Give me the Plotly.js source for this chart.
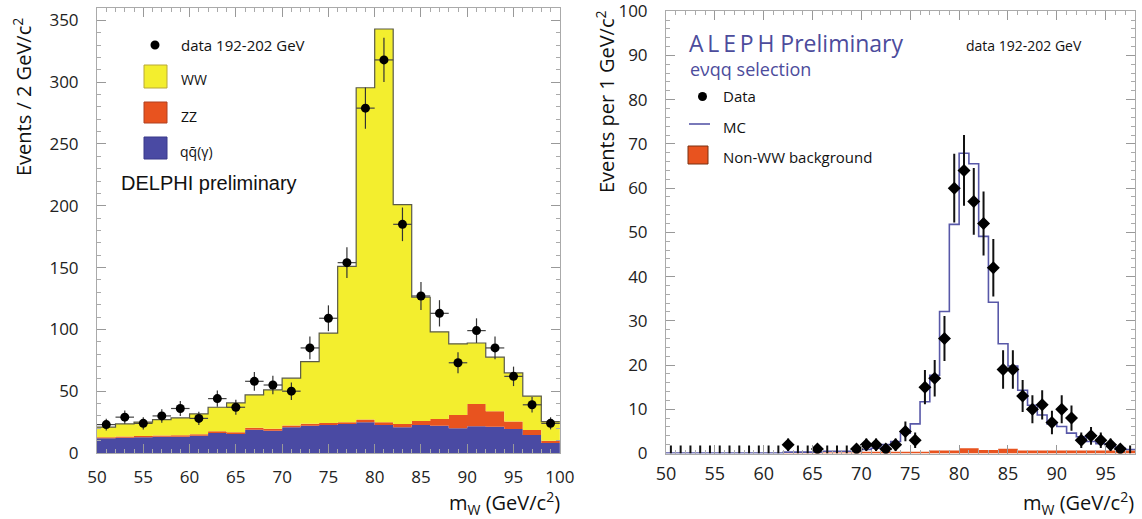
<!DOCTYPE html>
<html><head><meta charset="utf-8">
<script src="https://cdn.plot.ly/plotly-3.0.1.min.js"></script>
<style>html,body{margin:0;padding:0;background:#fff}#chart{width:1142px;height:519px}</style>
</head><body><div id="chart"></div>
<script>
// ---------- DELPHI (left) : 2 GeV bins ----------
const delphiBinLow = [50,52,54,56,58,60,62,64,66,68,70,72,74,76,78,80,82,84,86,88,90,92,94,96,98];
const delphiBinWidth = 2;
const delphiQQ   = [11.9,12.4,12.7,13.2,13.2,14.0,16.2,15.4,18.9,18.1,20.8,22.1,22.7,23.5,24.9,22.7,20.8,22.7,22.0,20.1,21.6,21.3,19.4,14.6,8.1];
const delphiZZ   = [0.8,1.0,1.0,1.0,1.2,1.2,1.3,1.3,1.5,1.5,1.5,1.6,1.6,1.4,2.1,2.2,2.7,3.2,5.5,10.7,18.0,12.5,6.0,4.0,1.9];
const delphiWW   = [8.3,10.1,11.2,12.8,14.0,16.4,19.5,23.8,26.6,31.4,38.2,50.3,72.7,126.1,268.5,318.1,177.5,100.1,70.5,57.5,49.4,43.7,39.4,27.4,15.4];
const delphiData = [23,29,24,30,36,28,44,37,58,55,50,85,109,154,279,318,185,127,113,73,99,85,62,39,24];

// ---------- ALEPH (right) : 1 GeV bins ----------
const alephBinLow = [50,51,52,53,54,55,56,57,58,59,60,61,62,63,64,65,66,67,68,69,70,71,72,73,74,75,76,77,78,79,80,81,82,83,84,85,86,87,88,89,90,91,92,93,94,95,96,97];
const alephBinWidth = 1;
const alephMC   = [0.1,0.1,0.1,0.1,0.1,0.1,0.1,0.1,0.1,0.1,0.1,0.1,0.3,0.3,0.3,0.3,0.5,0.5,0.5,0.5,0.9,1.2,2.0,2.7,4.6,6.7,11.7,17.7,32.1,51.8,67.9,65.5,49.1,34.2,24.8,19.8,14.3,10.9,8.7,6.7,6.1,4.6,3.8,2.7,2.2,1.6,1.2,0.9];
const alephBkg  = [0,0,0,0,0,0,0,0,0,0,0,0,0.2,0.2,0.2,0.2,0.2,0.2,0.2,0.2,0.4,0.4,0.4,0.4,0.4,0.4,0.4,0.7,0.7,0.7,1.2,1.2,0.8,0.8,1.1,1.1,0.7,0.7,0.7,0.7,0.7,0.7,0.7,0.7,0.7,0.7,0.7,0.7];
const alephData = [0,0,0,0,0,0,0,0,0,0,0,0,2,0,0,1,0,0,0,1,2,2,1,2,5,3,15,17,26,60,64,57,52,42,19,19,13,10,11,7,10,8,3,4,3,2,1,0];

// ---------- helpers ----------
const W = 1142, H = 519;
const px = x => x / W, py = y => 1 - y / H;
function edges(low, w){ const e = low.slice(); e.push(low[low.length-1] + w); return e; }
function stepY(v){ const a = v.slice(); a.push(v[v.length-1]); return a; }
function centers(low, w){ return low.map(v => v + w/2); }
function addArr(a,b){ return a.map((v,i)=>v+b[i]); }

const dEdges = edges(delphiBinLow, delphiBinWidth);
const dQQ = delphiQQ;
const dQQZZ = addArr(delphiQQ, delphiZZ);
const dTot = addArr(dQQZZ, delphiWW);

const aEdges = edges(alephBinLow, alephBinWidth);
const aCent = centers(alephBinLow, alephBinWidth);
const aNZx = [], aNZy = [], aNZe = [], aZx = [], aZy = [];
alephData.forEach((v,i)=>{ if(v>0){aNZx.push(aCent[i]);aNZy.push(v);aNZe.push(Math.sqrt(v));} else {aZx.push(aCent[i]);aZy.push(0);} });

const YEL = '#f3ee2e', RED = '#e8531f', BLU = '#4a4aa3', MCB = '#5858a8', ALEPHC = '#4c4c9c';

const traces = [
  {x: dEdges, y: stepY(dQQ), type:'scatter', mode:'lines', line:{shape:'hv', width:0}, fill:'tozeroy', fillcolor:BLU, xaxis:'x', yaxis:'y', hoverinfo:'skip'},
  {x: dEdges, y: stepY(dQQZZ), type:'scatter', mode:'lines', line:{shape:'hv', width:0}, fill:'tonexty', fillcolor:RED, xaxis:'x', yaxis:'y', hoverinfo:'skip'},
  {x: dEdges, y: stepY(dTot), type:'scatter', mode:'lines', line:{shape:'hv', width:0}, fill:'tonexty', fillcolor:YEL, xaxis:'x', yaxis:'y', hoverinfo:'skip'},
  {x: dEdges, y: stepY(dTot), type:'scatter', mode:'lines', line:{shape:'hv', width:1.2, color:'#5a5a48'}, xaxis:'x', yaxis:'y', hoverinfo:'skip'},
  {x: centers(delphiBinLow, delphiBinWidth), y: delphiData, type:'scatter', mode:'markers',
   marker:{symbol:'circle', size:9, color:'#000'},
   error_y:{type:'data', array: delphiData.map(v=>Math.sqrt(v)), thickness:1.2, width:0, color:'#333'},
   error_x:{type:'constant', value: delphiBinWidth/2, thickness:1.2, width:0, color:'#444'},
   xaxis:'x', yaxis:'y'},

  {x: aEdges, y: stepY(alephBkg), type:'scatter', mode:'lines', line:{shape:'hv', width:0}, fill:'tozeroy', fillcolor:RED, xaxis:'x2', yaxis:'y2', hoverinfo:'skip'},
  {x: aEdges, y: stepY(alephMC), type:'scatter', mode:'lines', line:{shape:'hv', width:1.6, color:MCB}, xaxis:'x2', yaxis:'y2'},
  {x: aZx, y: aZy, type:'scatter', mode:'markers', marker:{size:1, color:'rgba(0,0,0,0)'},
   error_y:{type:'data', symmetric:false, array: aZx.map(()=>1.8), arrayminus: aZx.map(()=>0), thickness:2, width:0, color:'#111'},
   xaxis:'x2', yaxis:'y2'},
  {x: aNZx, y: aNZy, type:'scatter', mode:'markers', marker:{symbol:'diamond', size:10, color:'#000'},
   error_y:{type:'data', array: aNZe, thickness:2, width:0, color:'#111'},
   xaxis:'x2', yaxis:'y2'}
];

const tickFont = s => ({family:'Open Sans, Liberation Sans, sans-serif', size:s, color:'#222'});
function axisBase(extra){
  return Object.assign({
    showgrid:false, zeroline:false, showline:true, linecolor:'#aaa', linewidth:1,
    mirror:'allticks', ticks:'inside', ticklen:9, tickwidth:1, tickcolor:'#999',
    ticklabeloverflow:'allow', fixedrange:true
  }, extra);
}

const layout = {
  width: W, height: H, margin:{l:0,r:0,t:0,b:0,pad:0},
  paper_bgcolor:'#fff', plot_bgcolor:'#fff', showlegend:false,
  xaxis: axisBase({domain:[px(97), px(560)], range:[50,100.02], tick0:50, dtick:5, anchor:'y',
    minor:{dtick:1, ticklen:4, ticks:'inside', tickcolor:'#aaa'}, tickfont:tickFont(17), ticklabelstandoff:9}),
  yaxis: axisBase({domain:[py(453), py(8)], range:[0,360], tick0:0, dtick:50, anchor:'x',
    minor:{dtick:10, ticklen:4, ticks:'inside', tickcolor:'#aaa'}, tickfont:tickFont(17), ticklabelstandoff:14}),
  xaxis2: axisBase({domain:[px(666), px(1135)], range:[50,98], tick0:50, dtick:5, anchor:'y2',
    minor:{dtick:1, ticklen:4, ticks:'inside', tickcolor:'#aaa'}, tickfont:tickFont(18), ticklabelstandoff:4}),
  yaxis2: axisBase({domain:[py(453.5), py(11)], range:[0,100.05], tick0:0, dtick:10, anchor:'x2',
    minor:{dtick:2, ticklen:4, ticks:'inside', tickcolor:'#aaa'}, tickfont:tickFont(17), ticklabelstandoff:14}),
  shapes: [
    {type:'rect', xref:'paper', yref:'paper', x0:px(144), x1:px(167), y0:py(88), y1:py(65), fillcolor:YEL, line:{color:'#b8a838', width:1}},
    {type:'rect', xref:'paper', yref:'paper', x0:px(144), x1:px(167), y0:py(123), y1:py(102), fillcolor:RED, line:{color:'#b04020', width:1}},
    {type:'rect', xref:'paper', yref:'paper', x0:px(144), x1:px(167), y0:py(159), y1:py(137), fillcolor:BLU, line:{color:'#38388a', width:1}},
    {type:'circle', xref:'paper', yref:'paper', x0:px(150.5), x1:px(159.5), y0:py(49.5), y1:py(40.5), fillcolor:'#000', line:{width:0}},
    {type:'circle', xref:'paper', yref:'paper', x0:px(698), x1:px(707), y0:py(101), y1:py(92), fillcolor:'#000', line:{width:0}},
    {type:'line', xref:'paper', yref:'paper', x0:px(689), x1:px(710), y0:py(124), y1:py(124), line:{color:MCB, width:1.6}},
    {type:'rect', xref:'paper', yref:'paper', x0:px(688), x1:px(708), y0:py(164), y1:py(146), fillcolor:RED, line:{color:'#7a3010', width:1}}
  ],
  annotations: [
    {xref:'paper', yref:'paper', x:px(22), y:py(97), text:'Events / 2 GeV/c<sup>2</sup>', textangle:-90, showarrow:false, xanchor:'center', yanchor:'middle', font:{family:'Open Sans', size:20, color:'#111'}},
    {xref:'paper', yref:'paper', x:px(562), y:py(503), text:'m<sub>W</sub> (GeV/c<sup>2</sup>)', showarrow:false, xanchor:'right', yanchor:'middle', font:{family:'Open Sans', size:20, color:'#111'}},
    {xref:'paper', yref:'paper', x:px(605), y:py(102), text:'Events per 1 GeV/c<sup>2</sup>', textangle:-90, showarrow:false, xanchor:'center', yanchor:'middle', font:{family:'Open Sans', size:20, color:'#111'}},
    {xref:'paper', yref:'paper', x:px(1136), y:py(503), text:'m<sub>W</sub> (GeV/c<sup>2</sup>)', showarrow:false, xanchor:'right', yanchor:'middle', font:{family:'Open Sans', size:20, color:'#111'}},

    {xref:'paper', yref:'paper', x:px(179), y:py(45), text:'data 192-202 GeV', showarrow:false, xanchor:'left', yanchor:'middle', font:{family:'Open Sans', size:15, color:'#111'}},
    {xref:'paper', yref:'paper', x:px(179), y:py(79), text:'WW', showarrow:false, xanchor:'left', yanchor:'middle', font:{family:'Open Sans', size:14, color:'#111'}},
    {xref:'paper', yref:'paper', x:px(179), y:py(116), text:'ZZ', showarrow:false, xanchor:'left', yanchor:'middle', font:{family:'Open Sans', size:14, color:'#111'}},
    {xref:'paper', yref:'paper', x:px(178), y:py(151), text:'qq\u0304(\u03b3)', showarrow:false, xanchor:'left', yanchor:'middle', font:{family:'Open Sans', size:14, color:'#111'}},
    {xref:'paper', yref:'paper', x:px(119), y:py(183), text:'DELPHI preliminary', showarrow:false, xanchor:'left', yanchor:'middle', font:{family:'Liberation Sans, Arial, sans-serif', size:20, color:'#111'}},

    {xref:'paper', yref:'paper', x:px(687), y:py(43), text:'A\u2009L\u2009E\u2009P\u2009H Preliminary', showarrow:false, xanchor:'left', yanchor:'middle', font:{family:'Open Sans', size:23, color:ALEPHC}},
    {xref:'paper', yref:'paper', x:px(688), y:py(69), text:'e\u03bdqq selection', showarrow:false, xanchor:'left', yanchor:'middle', font:{family:'Open Sans', size:18, color:ALEPHC}},
    {xref:'paper', yref:'paper', x:px(721), y:py(96), text:'Data', showarrow:false, xanchor:'left', yanchor:'middle', font:{family:'Open Sans', size:15, color:'#111'}},
    {xref:'paper', yref:'paper', x:px(721), y:py(127), text:'MC', showarrow:false, xanchor:'left', yanchor:'middle', font:{family:'Open Sans', size:15, color:'#111'}},
    {xref:'paper', yref:'paper', x:px(721), y:py(157), text:'Non-WW background', showarrow:false, xanchor:'left', yanchor:'middle', font:{family:'Open Sans', size:15, color:'#111'}},
    {xref:'paper', yref:'paper', x:px(964), y:py(45), text:'data 192-202 GeV', showarrow:false, xanchor:'left', yanchor:'middle', font:{family:'Open Sans', size:14, color:'#111'}}
  ]
};

Plotly.newPlot('chart', traces, layout, {displayModeBar:false, staticPlot:true});
</script>
</body></html>
